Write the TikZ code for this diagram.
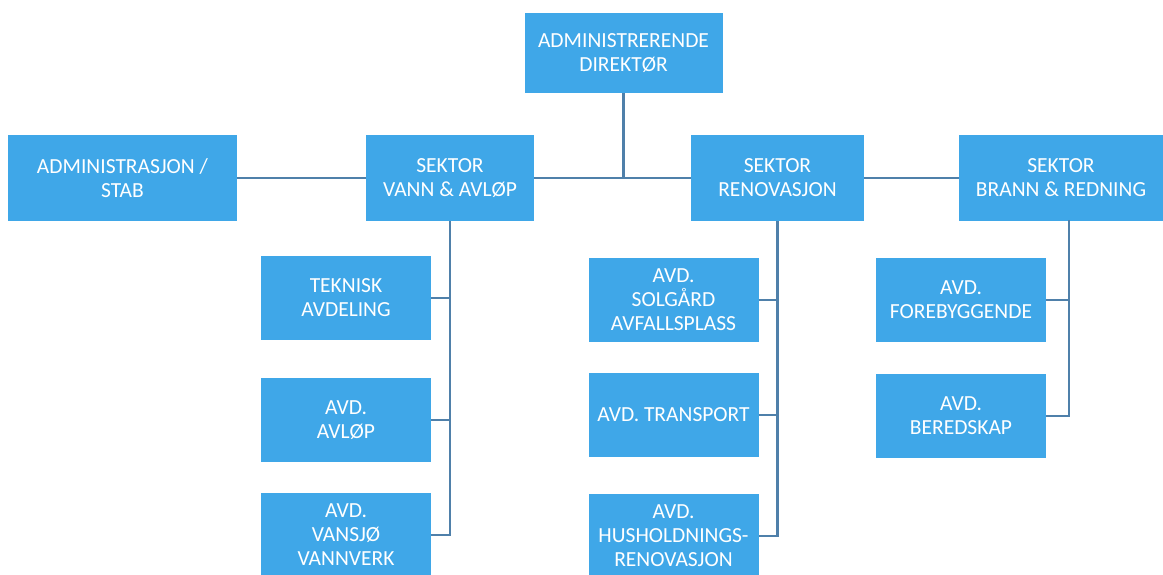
\documentclass[tikz,border=0pt]{standalone}
\usepackage{fontspec}
\setmainfont{Carlito}
\definecolor{boxblue}{HTML}{3FA7E8}
\definecolor{linecol}{HTML}{4F80AA}
\begin{document}
\begin{tikzpicture}[x=1pt,y=-1pt,
  box/.style={draw=none,fill=boxblue,text=white,align=center,inner sep=2pt,
    font=\fontsize{21.5}{24}\selectfont},
  sbox/.style={box,minimum width=170pt,minimum height=84pt},
  conn/.style={draw=linecol,line width=2.2pt}]
\useasboundingbox[fill=white] (0,0) rectangle (1163,575);
\node[box,minimum width=198pt,minimum height=80pt] (dir) at (623.5,53) {ADMINISTRERENDE\\DIREKTØR};
\node[box,minimum width=229pt,minimum height=86pt] (adm) at (122.5,178) {ADMINISTRASJON /\\STAB};
\node[box,minimum width=168pt,minimum height=86pt] (vann) at (450,178) {SEKTOR\\VANN \& AVLØP};
\node[box,minimum width=173pt,minimum height=86pt] (reno) at (777.5,178) {SEKTOR\\RENOVASJON};
\node[box,minimum width=204pt,minimum height=86pt] (brann) at (1061,178) {SEKTOR\\BRANN \& REDNING};
\node[sbox] (tek) at (346,298) {TEKNISK\\AVDELING};
\node[sbox] (avl) at (346,420) {AVD.\\AVLØP};
\node[sbox] (vsj) at (346,535) {AVD.\\VANSJØ\\VANNVERK};
\node[sbox] (sol) at (673.5,300) {AVD.\\SOLGÅRD\\AVFALLSPLASS};
\node[sbox] (tra) at (673.5,415) {AVD. TRANSPORT};
\node[sbox] (hus) at (673.5,536) {AVD.\\HUSHOLDNINGS-\\RENOVASJON};
\node[sbox] (for) at (961,300) {AVD.\\FOREBYGGENDE};
\node[sbox] (ber) at (961,416) {AVD.\\BEREDSKAP};
\coordinate (jn) at (dir.south |- vann.east);
\draw[conn] (dir.south) -- (jn);
\draw[conn] (adm.east) -- (vann.west);
\draw[conn] (vann.east) -- (reno.west);
\draw[conn] (reno.east) -- (brann.west);
\draw[conn] (vann.south) -- (vann.south |- vsj.east) -- (vsj.east);
\draw[conn] (tek.east) -- (tek.east -| vann.south);
\draw[conn] (avl.east) -- (avl.east -| vann.south);
\draw[conn] (reno.south) -- (reno.south |- hus.east) -- (hus.east);
\draw[conn] (sol.east) -- (sol.east -| reno.south);
\draw[conn] (tra.east) -- (tra.east -| reno.south);
\coordinate (bx) at (1069,220);
\draw[conn] (bx) -- (bx |- ber.east) -- (ber.east);
\draw[conn] (for.east) -- (for.east -| bx);
\end{tikzpicture}
\end{document}
